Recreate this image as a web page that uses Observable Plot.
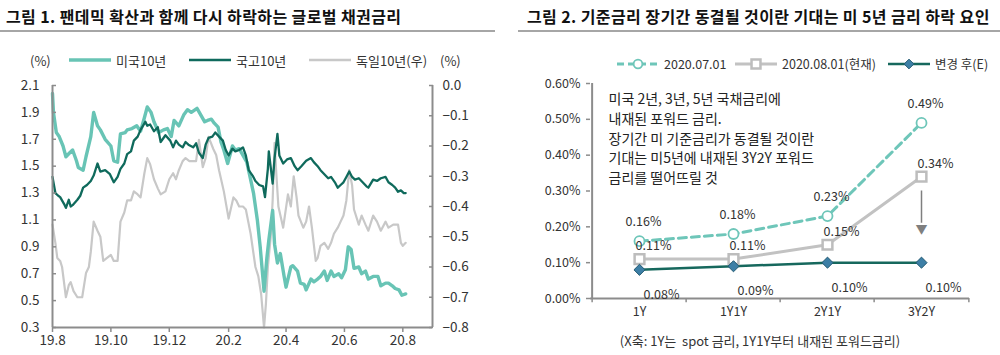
<!DOCTYPE html>
<html><head><meta charset="utf-8">
<script src="https://cdn.jsdelivr.net/npm/d3@7"></script>
<script src="https://cdn.jsdelivr.net/npm/@observablehq/plot@0.6"></script>
<style>
body{margin:0;background:#fff;font-family:"Noto Sans CJK KR","Noto Sans",sans-serif;color:#222;}
#wrap{position:relative;width:1000px;height:355px;overflow:hidden;background:#fff;}
.abs{position:absolute;white-space:nowrap;line-height:1;}
.title{font-weight:bold;font-size:16px;letter-spacing:0.4px;color:#111;}
.sep{position:absolute;height:2px;background:#a6a6a6;}
.lg{font-size:13px;color:#333;transform:translateY(-50%);display:flex;align-items:center;}
.lg svg{display:block;margin-right:4px;}
</style></head>
<body>
<div id="wrap">
  <div class="abs title" style="left:6px;top:8px;">그림 1. 팬데믹 확산과 함께 다시 하락하는 글로벌 채권금리</div>
  <div class="sep" style="left:0;top:30px;width:495px;"></div>
  <div class="abs title" style="left:527px;top:8px;">그림 2. 기준금리 장기간 동결될 것이란 기대는 미 5년 금리 하락 요인</div>
  <div class="sep" style="left:518px;top:30px;width:482px;"></div>
  <div id="left" class="abs" style="left:0;top:70px;"></div>
  <div id="right" class="abs" style="left:500px;top:70px;"></div>
  <div class="abs" style="left:760px;top:340px;transform:translate(-50%,-50%);font-size:13px;color:#333;">(X축: 1Y는&nbsp; spot 금리, 1Y1Y부터 내재된 포워드금리)</div>
</div>
<script>
// ---------- Chart 1 data (daily bond yields, %) ----------
const us10y = [
["2019-08-01",2.04],["2019-08-02",1.90],["2019-08-05",1.75],["2019-08-08",1.72],["2019-08-12",1.65],
["2019-08-15",1.57],["2019-08-19",1.60],["2019-08-22",1.62],["2019-08-26",1.54],["2019-08-28",1.49],
["2019-09-02",1.47],["2019-09-05",1.57],["2019-09-10",1.72],["2019-09-13",1.90],["2019-09-17",1.80],
["2019-09-20",1.77],["2019-09-25",1.70],["2019-10-01",1.65],["2019-10-04",1.54],["2019-10-08",1.53],
["2019-10-11",1.74],["2019-10-16",1.75],["2019-10-18",1.77],["2019-10-23",1.78],["2019-10-28",1.80],
["2019-11-01",1.76],["2019-11-05",1.86],["2019-11-08",1.94],["2019-11-12",1.90],["2019-11-15",1.83],
["2019-11-20",1.75],["2019-11-25",1.77],["2019-11-29",1.78],["2019-12-03",1.72],["2019-12-06",1.84],
["2019-12-11",1.80],["2019-12-16",1.88],["2019-12-20",1.92],["2019-12-24",1.90],["2019-12-30",1.93],
["2020-01-03",1.88],["2020-01-07",1.83],["2020-01-10",1.84],["2020-01-14",1.85],["2020-01-17",1.82],
["2020-01-21",1.79],["2020-01-24",1.68],["2020-01-27",1.62],["2020-01-31",1.52],["2020-02-05",1.65],
["2020-02-08",1.62],["2020-02-12",1.63],["2020-02-16",1.58],["2020-02-20",1.53],["2020-02-24",1.40],
["2020-02-27",1.30],["2020-03-02",1.10],["2020-03-05",0.90],["2020-03-09",0.57],["2020-03-12",0.82],
["2020-03-14",0.95],["2020-03-18",1.17],["2020-03-20",0.92],["2020-03-23",0.78],["2020-03-26",0.85],
["2020-03-30",0.68],["2020-04-01",0.60],["2020-04-06",0.75],["2020-04-08",0.76],["2020-04-13",0.72],
["2020-04-16",0.63],["2020-04-20",0.62],["2020-04-22",0.58],["2020-04-27",0.66],["2020-04-30",0.64],
["2020-05-04",0.66],["2020-05-07",0.68],["2020-05-11",0.72],["2020-05-14",0.65],["2020-05-18",0.72],
["2020-05-21",0.68],["2020-05-26",0.70],["2020-05-29",0.67],["2020-06-02",0.73],["2020-06-05",0.90],
["2020-06-08",0.88],["2020-06-11",0.74],["2020-06-16",0.75],["2020-06-19",0.70],["2020-06-23",0.72],
["2020-06-26",0.66],["2020-07-01",0.68],["2020-07-06",0.68],["2020-07-09",0.61],["2020-07-14",0.63],
["2020-07-17",0.63],["2020-07-21",0.61],["2020-07-24",0.59],["2020-07-28",0.58],["2020-07-31",0.54],
["2020-08-04",0.55]
];
const kr10y = [
["2019-08-01",1.42],["2019-08-04",1.30],["2019-08-07",1.28],["2019-08-09",1.27],["2019-08-13",1.22],
["2019-08-15",1.19],["2019-08-18",1.25],["2019-08-20",1.20],["2019-08-22",1.21],["2019-08-27",1.25],
["2019-08-30",1.28],["2019-09-02",1.34],["2019-09-06",1.36],["2019-09-10",1.39],["2019-09-13",1.43],
["2019-09-17",1.52],["2019-09-20",1.46],["2019-09-25",1.47],["2019-09-30",1.44],["2019-10-04",1.38],
["2019-10-08",1.42],["2019-10-11",1.48],["2019-10-15",1.52],["2019-10-18",1.59],["2019-10-22",1.61],
["2019-10-25",1.69],["2019-10-29",1.72],["2019-11-01",1.77],["2019-11-06",1.83],["2019-11-08",1.80],
["2019-11-11",1.81],["2019-11-15",1.76],["2019-11-19",1.79],["2019-11-22",1.68],["2019-11-27",1.73],
["2019-12-02",1.69],["2019-12-05",1.64],["2019-12-08",1.69],["2019-12-11",1.66],["2019-12-15",1.64],
["2019-12-18",1.68],["2019-12-21",1.66],["2019-12-26",1.64],["2019-12-29",1.67],["2020-01-01",1.60],
["2020-01-05",1.56],["2020-01-08",1.66],["2020-01-11",1.71],["2020-01-15",1.72],["2020-01-18",1.75],
["2020-01-22",1.72],["2020-01-26",1.69],["2020-01-29",1.62],["2020-02-01",1.58],["2020-02-05",1.63],
["2020-02-08",1.61],["2020-02-12",1.62],["2020-02-16",1.64],["2020-02-19",1.58],["2020-02-22",1.47],
["2020-02-26",1.43],["2020-02-29",1.39],["2020-03-04",1.36],["2020-03-08",1.35],["2020-03-10",1.27],
["2020-03-13",1.48],["2020-03-14",1.61],["2020-03-18",1.37],["2020-03-20",1.56],["2020-03-23",1.74],
["2020-03-25",1.58],["2020-03-29",1.52],["2020-04-02",1.55],["2020-04-06",1.56],["2020-04-10",1.50],
["2020-04-13",1.47],["2020-04-17",1.50],["2020-04-22",1.54],["2020-04-27",1.56],["2020-04-30",1.53],
["2020-05-04",1.50],["2020-05-07",1.47],["2020-05-11",1.44],["2020-05-15",1.41],["2020-05-18",1.42],
["2020-05-22",1.38],["2020-05-25",1.34],["2020-05-28",1.36],["2020-05-31",1.38],["2020-06-03",1.42],
["2020-06-06",1.46],["2020-06-09",1.42],["2020-06-12",1.40],["2020-06-16",1.41],["2020-06-20",1.38],
["2020-06-24",1.35],["2020-06-26",1.34],["2020-07-01",1.40],["2020-07-05",1.39],["2020-07-09",1.41],
["2020-07-14",1.42],["2020-07-17",1.38],["2020-07-21",1.36],["2020-07-24",1.34],["2020-07-27",1.31],
["2020-07-30",1.32],["2020-08-02",1.30],["2020-08-04",1.30]
];
const de10y = [
["2019-08-01",-0.46],["2019-08-04",-0.52],["2019-08-06",-0.57],["2019-08-09",-0.58],["2019-08-11",-0.60],
["2019-08-15",-0.70],["2019-08-18",-0.66],["2019-08-20",-0.65],["2019-08-23",-0.68],["2019-08-27",-0.70],
["2019-09-01",-0.70],["2019-09-05",-0.62],["2019-09-08",-0.60],["2019-09-10",-0.55],["2019-09-13",-0.45],
["2019-09-17",-0.48],["2019-09-20",-0.50],["2019-09-23",-0.58],["2019-09-27",-0.57],["2019-10-01",-0.56],
["2019-10-04",-0.58],["2019-10-08",-0.58],["2019-10-11",-0.45],["2019-10-15",-0.42],["2019-10-18",-0.38],
["2019-10-22",-0.38],["2019-10-25",-0.35],["2019-10-29",-0.36],["2019-11-01",-0.37],["2019-11-05",-0.29],
["2019-11-08",-0.24],["2019-11-11",-0.26],["2019-11-15",-0.31],["2019-11-19",-0.34],["2019-11-22",-0.36],
["2019-11-27",-0.35],["2019-12-01",-0.31],["2019-12-05",-0.29],["2019-12-08",-0.31],["2019-12-11",-0.28],
["2019-12-15",-0.25],["2019-12-18",-0.24],["2019-12-22",-0.25],["2019-12-29",-0.25],["2020-01-01",-0.18],
["2020-01-05",-0.27],["2020-01-08",-0.24],["2020-01-11",-0.17],["2020-01-16",-0.21],["2020-01-19",-0.23],
["2020-01-22",-0.28],["2020-01-27",-0.35],["2020-02-01",-0.44],["2020-02-06",-0.37],["2020-02-09",-0.38],
["2020-02-12",-0.40],["2020-02-16",-0.40],["2020-02-19",-0.41],["2020-02-24",-0.49],["2020-02-29",-0.60],
["2020-03-03",-0.63],["2020-03-06",-0.69],["2020-03-09",-0.80],["2020-03-11",-0.72],["2020-03-13",-0.60],
["2020-03-16",-0.50],["2020-03-18",-0.38],["2020-03-20",-0.19],["2020-03-22",-0.30],["2020-03-24",-0.40],
["2020-03-29",-0.47],["2020-04-03",-0.36],["2020-04-06",-0.40],["2020-04-09",-0.30],["2020-04-12",-0.37],
["2020-04-14",-0.43],["2020-04-19",-0.47],["2020-04-22",-0.45],["2020-04-25",-0.40],["2020-04-28",-0.47],
["2020-05-02",-0.58],["2020-05-04",-0.57],["2020-05-07",-0.53],["2020-05-11",-0.52],["2020-05-15",-0.54],
["2020-05-18",-0.52],["2020-05-21",-0.49],["2020-05-25",-0.47],["2020-05-28",-0.45],["2020-05-31",-0.43],
["2020-06-03",-0.38],["2020-06-06",-0.28],["2020-06-09",-0.33],["2020-06-11",-0.41],["2020-06-16",-0.46],
["2020-06-19",-0.43],["2020-06-23",-0.46],["2020-06-26",-0.48],["2020-07-01",-0.43],["2020-07-05",-0.45],
["2020-07-09",-0.48],["2020-07-14",-0.45],["2020-07-17",-0.47],["2020-07-22",-0.46],["2020-07-27",-0.46],
["2020-07-30",-0.52],["2020-08-01",-0.53],["2020-08-04",-0.52]
];
const leftTicks = [0.3,0.5,0.7,0.9,1.1,1.3,1.5,1.7,1.9,2.1];
const rightTicks = [0,-0.1,-0.2,-0.3,-0.4,-0.5,-0.6,-0.7,-0.8];
const xTickDates = ["2019-08-01","2019-10-01","2019-12-01","2020-02-01","2020-04-01","2020-06-01","2020-08-01"];
const xDomain = ["2019-08-01","2020-09-01"];
const leftSeriesNames = ["미국10년","국고10년","독일10년(우)"];

// ---------- Chart 2 data ----------
const categories = ["1Y","1Y1Y","2Y1Y","3Y2Y"];
const jul01 = [0.16,0.18,0.23,0.49];
const aug01 = [0.11,0.11,0.15,0.34];
const estimate = [0.08,0.09,0.10,0.10];
const rightSeriesNames = ["2020.07.01","2020.08.01(현재)","변경 후(E)"];
const yTicksPct = [0,0.1,0.2,0.3,0.4,0.5,0.6];
const arrowFrom = 0.30, arrowTo = 0.19;
const noteText = "미국 2년, 3년, 5년 국채금리에\n내재된 포워드 금리.\n장기간 미 기준금리가 동결될 것이란\n기대는 미5년에 내재된 3Y2Y 포워드\n금리를 떨어뜨릴 것";

const cUS = "#68c4b5", cKR = "#0f6a5c", cDE = "#c8c8c8";
const cJul = "#6ec6b9", cAug = "#c2c2c2", cEst = "#16685d";
const FONT = '"Noto Sans CJK KR","Noto Sans",sans-serif';

// ---------- Chart 1 ----------
const parse = d3.utcParse("%Y-%m-%d");
const rowsOf = arr => arr.map(([d, v]) => ({date: parse(d), value: v}));
const DE_TOP = 2.1, DE_K = 1.8 / 0.8;
const deToLeft = v => DE_TOP + v * DE_K;
const d0 = parse(xDomain[0]), d1 = parse(xDomain[1]);

const left = Plot.plot({
  width: 500, height: 285,
  marginTop: 15, marginBottom: 28, marginLeft: 52, marginRight: 68,
  style: {fontFamily: FONT, fontSize: "13.5px", color: "#333", background: "transparent"},
  x: {type: "utc", domain: [d0, d1], label: null},
  y: {domain: [0.3, 2.1], label: null},
  marks: [
    Plot.line(rowsOf(de10y), {x: "date", y: d => deToLeft(d.value), stroke: cDE, strokeWidth: 2.2}),
    Plot.line(rowsOf(us10y), {x: "date", y: "value", stroke: cUS, strokeWidth: 3.4}),
    Plot.line(rowsOf(kr10y), {x: "date", y: "value", stroke: cKR, strokeWidth: 2.3}),
    Plot.ruleY([0.3], {stroke: "#8c8c8c", strokeWidth: 2}),
    Plot.ruleX([d0, d1], {stroke: "#8c8c8c", strokeWidth: 2}),
    Plot.axisY({anchor: "left", ticks: leftTicks, tickFormat: d => d.toFixed(1), tickSize: -4, tickPadding: 17, stroke: "#8c8c8c", strokeWidth: 1.5}),
    Plot.axisY({anchor: "right", ticks: rightTicks.map(deToLeft),
      tickFormat: d => { const v = Math.round((d - DE_TOP) / DE_K * 10) / 10; return v === 0 ? "0.0" : "\u2212" + Math.abs(v).toFixed(1); },
      tickSize: -4, tickPadding: 14, stroke: "#8c8c8c", strokeWidth: 1.5}),
    Plot.axisX({ticks: xTickDates.map(parse), tickFormat: d => `${d.getUTCFullYear() % 100}.${d.getUTCMonth() + 1}`, tickSize: 5, tickPadding: 3, stroke: "#8c8c8c", strokeWidth: 1.5})
  ]
});
document.getElementById("left").appendChild(left);

// ---------- Chart 2 ----------
const rowsCat = s => categories.map((c, i) => ({cat: c, v: s[i]}));
const pw = 500 - 90 - 31, step = pw / categories.length, half = step / 2;
const pct = v => v.toFixed(2) + "%";
const right = Plot.plot({
  width: 500, height: 255,
  marginTop: 13, marginBottom: 27, marginLeft: 90, marginRight: 31,
  style: {fontFamily: FONT, fontSize: "12.5px", color: "#333", background: "transparent"},
  x: {type: "point", domain: categories, padding: 0.5, label: null},
  y: {domain: [0, 0.6], label: null},
  marks: [
    Plot.ruleY([0], {stroke: "#8c8c8c", strokeWidth: 2}),
    Plot.ruleX([categories[0]], {y1: 0, y2: 0.6, dx: -half, stroke: "#8c8c8c", strokeWidth: 2}),
    Plot.ruleX(categories, {y1: 0, y2: -0.012, dx: -half, stroke: "#8c8c8c", strokeWidth: 1.5}),
    Plot.ruleX([categories[categories.length - 1]], {y1: 0, y2: -0.012, dx: half, stroke: "#8c8c8c", strokeWidth: 1.5}),
    Plot.axisY({ticks: yTicksPct, tickFormat: pct, tickSize: 4, tickPadding: 6, stroke: "#8c8c8c", strokeWidth: 1.5}),
    Plot.axisX({tickSize: 0, tickPadding: 9}),
    Plot.text([noteText], {frameAnchor: "top-left", dx: 18, dy: 7, lineAnchor: "top", textAnchor: "start", fontSize: 14, lineHeight: 1.4, fill: "#222"}),
    Plot.ruleX([categories[3]], {y1: arrowFrom, y2: arrowTo + 0.02, stroke: "#7f7f7f", strokeWidth: 1.5}),
    Plot.text([categories[3]], {x: d => d, y: arrowTo, text: () => "\u25BC", fill: "#7f7f7f", fontSize: 12}),
    Plot.line(rowsCat(aug01), {x: "cat", y: "v", stroke: cAug, strokeWidth: 3}),
    Plot.line(rowsCat(jul01), {x: "cat", y: "v", stroke: cJul, strokeWidth: 3, strokeDasharray: "8,5"}),
    Plot.line(rowsCat(estimate), {x: "cat", y: "v", stroke: cEst, strokeWidth: 2.5}),
    Plot.dot(rowsCat(jul01), {x: "cat", y: "v", r: 5, stroke: cJul, fill: "white", strokeWidth: 1.8}),
    Plot.dot(rowsCat(aug01), {x: "cat", y: "v", symbol: "square", r: 5.5, stroke: "#bdbdbd", fill: "white", strokeWidth: 2.5}),
    Plot.dot(rowsCat(estimate), {x: "cat", y: "v", symbol: "diamond2", r: 5, fill: "#3d7fa6", stroke: "#235a72", strokeWidth: 1}),
    Plot.text(rowsCat(jul01), {x: "cat", y: "v", text: d => pct(d.v), dx: 4, dy: -19, fill: "#333"}),
    Plot.text(rowsCat(aug01), {x: "cat", y: "v", text: d => pct(d.v), dx: 14, dy: -13, fill: "#333"}),
    Plot.text(rowsCat(estimate), {x: "cat", y: "v", text: d => pct(d.v), dx: 22, dy: 25, fill: "#333"})
  ]
});
document.getElementById("right").appendChild(right);

// ---------- Legends ----------
function lineSample(color, w, dash, symbol) {
  const ns = "http://www.w3.org/2000/svg";
  const svg = document.createElementNS(ns, "svg");
  svg.setAttribute("width", 44); svg.setAttribute("height", 14);
  const l = document.createElementNS(ns, "line");
  l.setAttribute("x1", 1); l.setAttribute("x2", 43); l.setAttribute("y1", 7); l.setAttribute("y2", 7);
  l.setAttribute("stroke", color); l.setAttribute("stroke-width", w);
  if (dash) l.setAttribute("stroke-dasharray", dash);
  svg.appendChild(l);
  if (symbol) {
    const p = document.createElementNS(ns, "path");
    p.setAttribute("transform", "translate(22,7)");
    p.setAttribute("d", symbol.d);
    p.setAttribute("fill", symbol.fill); p.setAttribute("stroke", symbol.stroke);
    p.setAttribute("stroke-width", symbol.sw);
    svg.appendChild(p);
  }
  return svg;
}
function legendItem(parent, x, y, sample, label, fs) {
  const div = document.createElement("div");
  div.className = "abs lg";
  div.style.left = x + "px"; div.style.top = y + "px";
  if (fs) div.style.fontSize = fs;
  div.appendChild(sample);
  const s = document.createElement("span"); s.textContent = label;
  div.appendChild(s);
  parent.appendChild(div);
}
const wrap = document.getElementById("wrap");
const pctL = document.createElement("div"); pctL.className = "abs lg"; pctL.style.left = "30px"; pctL.style.top = "60px"; pctL.textContent = "(%)"; wrap.appendChild(pctL);
const pctR = document.createElement("div"); pctR.className = "abs lg"; pctR.style.left = "440px"; pctR.style.top = "60px"; pctR.textContent = "(%)"; wrap.appendChild(pctR);
legendItem(wrap, 68, 60, lineSample(cUS, 3.5), leftSeriesNames[0]);
legendItem(wrap, 188, 60, lineSample(cKR, 2.5), leftSeriesNames[1]);
legendItem(wrap, 308, 60, lineSample(cDE, 2.5), leftSeriesNames[2]);
legendItem(wrap, 616, 64, lineSample(cJul, 3, "7,4", {d: d3.symbol(d3.symbolCircle, 60)(), fill: "white", stroke: cJul, sw: 1.8}), rightSeriesNames[0], "12.5px");
legendItem(wrap, 734, 64, lineSample(cAug, 3, null, {d: d3.symbol(d3.symbolSquare, 80)(), fill: "white", stroke: "#bdbdbd", sw: 2.5}), rightSeriesNames[1], "12.5px");
legendItem(wrap, 887, 64, lineSample(cEst, 2.5, null, {d: d3.symbol(d3.symbolDiamond2, 60)(), fill: "#3d7fa6", stroke: "#235a72", sw: 1}), rightSeriesNames[2], "12.5px");
</script>
</body></html>
